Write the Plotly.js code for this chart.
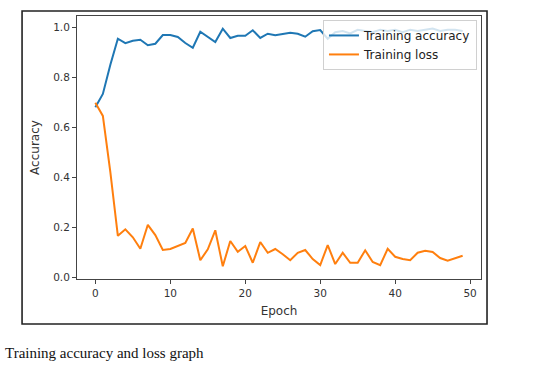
<!DOCTYPE html>
<html>
<head>
<meta charset="utf-8">
<script src="https://cdn.plot.ly/plotly-3.0.1.min.js"></script>
<style>
html,body{margin:0;padding:0;background:#fff;}
#chart{width:534px;height:375px;}
</style>
</head>
<body>
<div id="chart"></div>
<script>
var epochs = [];
for (var i = 0; i < 50; i++) epochs.push(i);

var trainingAccuracy = [
  0.680, 0.733, 0.850, 0.954, 0.936, 0.946, 0.950, 0.928, 0.934, 0.969,
  0.969, 0.961, 0.937, 0.918, 0.982, 0.962, 0.941, 0.994, 0.957, 0.966,
  0.966, 0.988, 0.957, 0.974, 0.968, 0.973, 0.978, 0.974, 0.962, 0.984,
  0.989, 0.954, 0.980, 0.985, 0.975, 0.990, 0.985, 0.980, 0.990, 0.985,
  0.990, 0.980, 0.990, 0.985, 0.990, 0.995, 0.985, 0.990, 0.990, 0.985
];

var trainingLoss = [
  0.698, 0.645, 0.420, 0.165, 0.191, 0.159, 0.113, 0.209, 0.168, 0.108,
  0.112, 0.124, 0.136, 0.194, 0.067, 0.111, 0.187, 0.043, 0.144, 0.101,
  0.124, 0.057, 0.140, 0.097, 0.112, 0.091, 0.067, 0.097, 0.108, 0.072,
  0.048, 0.128, 0.052, 0.097, 0.057, 0.057, 0.107, 0.060, 0.047, 0.113,
  0.081, 0.072, 0.067, 0.097, 0.105, 0.100, 0.076, 0.065, 0.076, 0.085
];

var xTicks = [0, 10, 20, 30, 40, 50];
var yTicks = [0.0, 0.2, 0.4, 0.6, 0.8, 1.0];
var yTickText = ["0.0", "0.2", "0.4", "0.6", "0.8", "1.0"];

var seriesNames = ["Training accuracy", "Training loss"];
var captionText = "Training accuracy and loss graph";

var traces = [
  {x: epochs, y: trainingAccuracy, type: "scatter", mode: "lines", name: seriesNames[0],
   line: {color: "#1f77b4", width: 2}},
  {x: epochs, y: trainingLoss, type: "scatter", mode: "lines", name: seriesNames[1],
   line: {color: "#ff7f0e", width: 2}}
];

var axisFont = {family: "DejaVu Sans", size: 10.5, color: "#333"};
var titleFont = {family: "DejaVu Sans", size: 12, color: "#333"};

var layout = {
  width: 534, height: 375,
  margin: {l: 77, r: 53, t: 16, b: 96, pad: 0},
  paper_bgcolor: "#fff", plot_bgcolor: "#fff",
  showlegend: true,
  xaxis: {
    range: [-2.45, 51.45], tickvals: xTicks, ticktext: xTicks.map(String),
    ticks: "outside", ticklen: 4, tickcolor: "#444", tickwidth: 1,
    showgrid: false, zeroline: false,
    showline: true, linecolor: "#444", linewidth: 1, mirror: true,
    tickfont: axisFont,
    title: {text: "Epoch", font: titleFont, standoff: 9}
  },
  yaxis: {
    range: [-0.008, 1.045], tickvals: yTicks, ticktext: yTickText,
    ticks: "outside", ticklen: 4, tickcolor: "#444", tickwidth: 1,
    showgrid: false, zeroline: false,
    showline: true, linecolor: "#444", linewidth: 1, mirror: true,
    tickfont: axisFont,
    title: {text: "Accuracy", font: titleFont, standoff: 10}
  },
  legend: {
    x: 0.99, y: 0.985, xanchor: "right", yanchor: "top",
    bgcolor: "rgba(255,255,255,0.8)", bordercolor: "#d0d0d0", borderwidth: 1,
    font: {family: "DejaVu Sans", size: 12, color: "#222"},
    tracegroupgap: 0, itemwidth: 30
  },
  shapes: [
    {type: "rect", xref: "paper", yref: "paper",
     x0: -0.136, x1: 1.0149, y0: -0.171, y1: 1.019,
     line: {color: "#222", width: 1.6}, fillcolor: "rgba(0,0,0,0)", layer: "below"}
  ],
  annotations: [
    {text: captionText, xref: "paper", yref: "paper",
     x: -0.183, y: -0.281, xanchor: "left", yanchor: "middle", showarrow: false,
     font: {family: "Liberation Serif", size: 15, color: "#111"}}
  ]
};

Plotly.newPlot("chart", traces, layout, {displayModeBar: false, staticPlot: true});
</script>
</body>
</html>
